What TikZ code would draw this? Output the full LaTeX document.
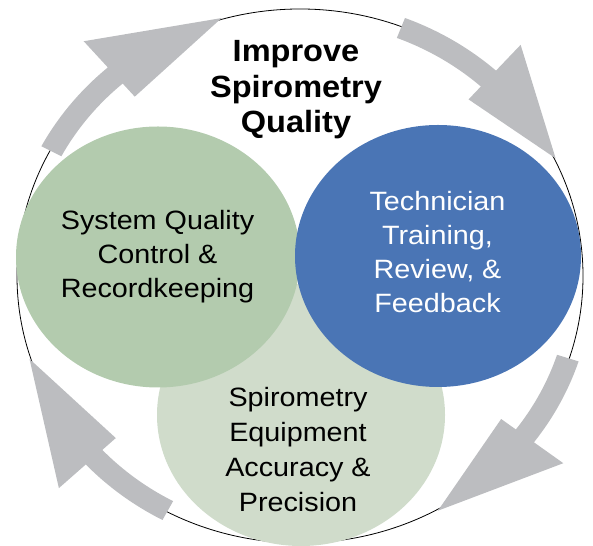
\documentclass[tikz,border=0pt]{standalone}
\usepackage{fontspec}
\setmainfont{Liberation Sans}
\newfontfamily\circfont[FakeStretch=1.085]{Liberation Sans}
\newfontfamily\ttlfont[FakeStretch=1.06]{Liberation Sans Bold}
\usetikzlibrary{shapes.geometric}
\definecolor{cgreen}{HTML}{B3CBAE}
\definecolor{clight}{HTML}{D0DCCB}
\definecolor{cblue}{HTML}{4A75B5}
\definecolor{arrowgray}{HTML}{BCBDC0}
\newcommand{\cycarrow}[3]{%
  \fill[arrowgray]
    ({300+283*1.035*cos(#1)},{269+267*1.035*sin(#1)})
    arc[start angle=#1, end angle=#2, x radius={283*1.035}, y radius={267*1.035}]
    -- ({300+283*1.165*cos(#2)},{269+267*1.165*sin(#2)})
    -- ({300+283*1.005*cos(#3)},{269+267*1.005*sin(#3)})
    -- ({300+283*0.89*cos(#2)},{269+267*0.89*sin(#2)})
    -- ({300+283*0.955*cos(#2)},{269+267*0.955*sin(#2)})
    arc[start angle=#2, end angle=#1, x radius={283*0.955}, y radius={267*0.955}]
    -- cycle;}
\tikzset{
  blob/.style={ellipse, inner sep=0pt, draw=none},
  circtext/.style={font=\circfont\fontsize{26.5}{34}\selectfont, align=center, anchor=base, inner sep=0pt},
}
\begin{document}
\begin{tikzpicture}[x=1pt,y=1pt]
\useasboundingbox (0,0) rectangle (593,545);
\node[ellipse, draw=black, line width=0.8pt, minimum width=566pt, minimum height=534pt, inner sep=0pt] (outer) at (300,269) {};
\cycarrow{152}{131}{106}
\cycarrow{69}{48}{26}
\cycarrow{-18}{-37}{-61}
\cycarrow{-118}{-137}{-162}
\node[blob, fill=clight, minimum width=288pt, minimum height=262pt] (equip) at (301,130) {};
\node[blob, fill=cgreen, minimum width=284pt, minimum height=261pt] (system) at (158,288) {};
\node[blob, fill=cblue, minimum width=286pt, minimum height=262pt] (tech) at (438,289) {};
\node[font=\ttlfont\fontsize{30.7}{35.5}\selectfont, align=center, anchor=base, inner sep=0pt] (title) at (296,412) {Improve\\Spirometry\\Quality};
\node[circtext] (systemtext) at (157.5,247.5) {System Quality\\Control \&\\Recordkeeping};
\node[circtext, text=white] (techtext) at (437.5,232) {Technician\\Training,\\Review, \&\\Feedback};
\node[circtext, font=\circfont\fontsize{26.5}{35}\selectfont] (equiptext) at (298,33) {Spirometry\\Equipment\\Accuracy \&\\Precision};
\end{tikzpicture}
\end{document}
